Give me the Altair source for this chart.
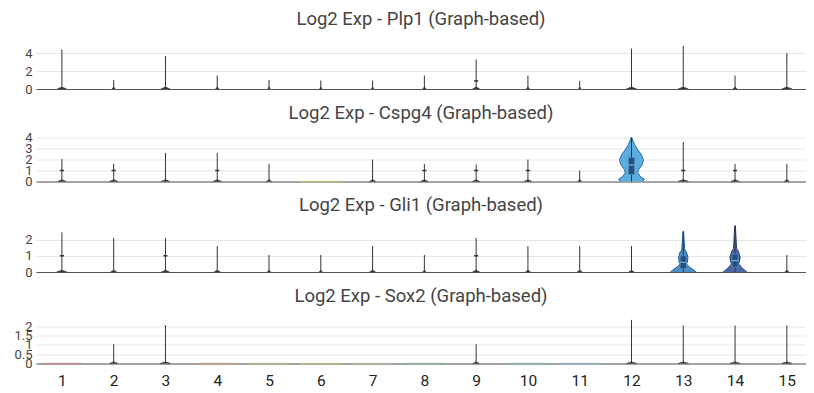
import altair as alt
import pandas as pd

clusters = list(range(1, 16))
genes = ["Plp1", "Cspg4", "Gli1", "Sox2"]
y_max = [4.8, 4.1, 2.9, 2.35]
y_ticks = [[0, 2, 4], [0, 1, 2, 3, 4], [0, 1, 2], [0, 0.5, 1, 1.5, 2]]

cluster_colors = ["#e8797a", "#e8894e", "#f0a050", "#f2b06a", "#c8d46a",
                  "#e6d96a", "#c2d8a8", "#7fbf86", "#74c6b6", "#6ec3c9",
                  "#86d2e4", "#5aaee0", "#4a8fcc", "#4a68a8", "#7b67a8"]

# maximum expression reached in each cluster (0 = nothing expressed)
plp1_max = [4.4, 1.0, 3.7, 1.5, 1.0, 0.95, 0.95, 1.5, 3.3, 1.5, 0.9, 4.5, 4.8, 1.5, 4.0]
cspg4_max = [2.05, 1.6, 2.6, 2.6, 1.6, 0, 2.0, 1.6, 1.55, 2.0, 1.0, 4.0, 3.6, 1.6, 1.6]
gli1_max = [2.45, 2.1, 2.1, 1.6, 1.05, 1.05, 1.6, 1.05, 2.1, 1.6, 1.6, 1.6, 2.5, 2.85, 1.05]
sox2_max = [0, 1.03, 2.05, 0, 0, 0, 0, 0, 1.03, 0, 0, 2.33, 2.03, 2.03, 2.03]

# small box markers on the thin violins (None = no marker)
plp1_mark = [None, None, None, None, None, None, None, None, 0.9, None, None, None, None, None, None]
cspg4_mark = [1.0, 1.0, None, 1.0, None, None, None, 1.0, 1.0, 1.0, None, None, 1.0, 1.0, None]
gli1_mark = [1.0, None, 1.0, None, None, None, None, None, 1.0, None, None, None, None, None, None]
sox2_mark = [None] * 15

# half width of the density blob at zero for each thin violin
plp1_blob = [0.09, 0.03, 0.09, 0.03, 0.02, 0.02, 0.02, 0.03, 0.07, 0.03, 0.02, 0.1, 0.1, 0.04, 0.1]
cspg4_blob = [0.08, 0.08, 0.08, 0.08, 0.05, 0, 0.06, 0.07, 0.07, 0.07, 0.04, 0, 0.1, 0.08, 0.05]
gli1_blob = [0.1, 0.06, 0.08, 0.06, 0.03, 0.03, 0.06, 0.03, 0.07, 0.05, 0.05, 0.05, 0, 0, 0.04]
sox2_blob = [0, 0.08, 0.1, 0, 0, 0, 0, 0, 0.06, 0, 0, 0.1, 0.1, 0.1, 0.1]
blob_height = [0.2, 0.15, 0.1, 0.08]

# full violin outlines (expression level, half width in cluster units)
cspg4_c12_y = [0, 0.2, 0.45, 0.8, 1.1, 1.55, 2.0, 2.45, 2.9, 3.36, 3.7, 4.0]
cspg4_c12_w = [0.21, 0.25, 0.17, 0.12, 0.14, 0.21, 0.23, 0.19, 0.12, 0.06, 0.03, 0.006]
gli1_c13_y = [0, 0.1, 0.3, 0.5, 0.6, 0.9, 1.25, 1.35, 1.6, 2.0, 2.5]
gli1_c13_w = [0.25, 0.21, 0.12, 0.06, 0.08, 0.09, 0.06, 0.03, 0.023, 0.015, 0.006]
gli1_c14_y = [0, 0.1, 0.3, 0.5, 0.6, 0.9, 1.3, 1.45, 1.8, 2.3, 2.85]
gli1_c14_w = [0.23, 0.19, 0.12, 0.07, 0.08, 0.1, 0.06, 0.03, 0.023, 0.015, 0.006]
violin_fill = ["#5aaee0", "#4a8fcc", "#4a68a8"]
violin_line = ["#2c6a9e", "#23598f", "#2a3d73"]

# inner boxes of the full violins: gene, cluster, q1, median, q3
box_gene = ["Cspg4", "Gli1", "Gli1"]
box_cluster = [12, 13, 14]
box_q1 = [0.65, 0.2, 0.3]
box_med = [1.5, 0.6, 0.7]
box_q3 = [2.2, 1.0, 1.1]

max_lists = [plp1_max, cspg4_max, gli1_max, sox2_max]
mark_lists = [plp1_mark, cspg4_mark, gli1_mark, sox2_mark]
blob_lists = [plp1_blob, cspg4_blob, gli1_blob, sox2_blob]
full_violins = [("Cspg4", 12, cspg4_c12_y, cspg4_c12_w),
                ("Gli1", 13, gli1_c13_y, gli1_c13_w),
                ("Gli1", 14, gli1_c14_y, gli1_c14_w)]


def outline(gene, cluster, vid, ys, ws):
    """Closed violin outline: up the left side, down the right side."""
    rows = []
    pts = [(y, -w) for y, w in zip(ys, ws)] + [(y, w) for y, w in reversed(list(zip(ys, ws)))]
    for k, (y, off) in enumerate(pts):
        rows.append({"gene": gene, "cluster": cluster, "vid": vid, "idx": k, "y": y, "off": off})
    return rows


blob_rows, spike_rows, mark_rows, zero_rows = [], [], [], []
for gi, g in enumerate(genes):
    for ci, c in enumerate(clusters):
        top = max_lists[gi][ci]
        if top > 0:
            spike_rows.append({"gene": g, "cluster": c, "top": top})
        else:
            zero_rows.append({"gene": g, "cluster": c, "color": cluster_colors[ci]})
        bw = blob_lists[gi][ci]
        if bw > 0:
            blob_rows += outline(g, c, f"{g}-{c}", [0, blob_height[gi]], [bw, 0.004])
        m = mark_lists[gi][ci]
        if m is not None:
            mark_rows.append({"gene": g, "cluster": c, "m": m})

violin_frames = []
for g, c, ys, ws in full_violins:
    violin_frames.append((g, pd.DataFrame(outline(g, c, f"{g}-{c}", ys, ws))))

blobs = pd.DataFrame(blob_rows)
spikes = pd.DataFrame(spike_rows)
marks = pd.DataFrame(mark_rows)
zeros = pd.DataFrame(zero_rows)
boxes = pd.DataFrame({"gene": box_gene, "cluster": box_cluster,
                      "q1": box_q1, "med": box_med, "q3": box_q3})

FONT = "Roboto"
x_scale = alt.Scale(domain=[0.5, 15.37], nice=False, zero=False)
heights = [43, 45, 47, 44]
title_offsets = [17.5, 9.5, 9, 13.5]


def panel(gi):
    g = genes[gi]
    last = gi == len(genes) - 1
    x_axis = alt.Axis(values=clusters, format="d", grid=False, ticks=False,
                      domain=True, domainColor="#555555", domainWidth=1,
                      labels=last, labelFontSize=15.5, labelColor="#222222",
                      labelFont=FONT, labelPadding=10, title=None)
    y_scale = alt.Scale(domain=[0, y_max[gi]], nice=False, zero=True)
    y_axis = alt.Axis(values=y_ticks[gi], format="~g", grid=True, gridColor="#e6e6e6",
                      domain=False, ticks=False, labelOverlap=False,
                      labelFontSize=13, labelColor="#444444", labelFont=FONT,
                      labelPadding=4, minExtent=28, maxExtent=28, title=None)
    X = lambda f: alt.X(f, scale=x_scale, axis=x_axis)
    Y = lambda f: alt.Y(f, scale=y_scale, axis=y_axis)

    layers = []
    zsub = zeros[zeros.gene == g]
    if len(zsub):
        layers.append(alt.Chart(zsub).transform_calculate(
            lo="datum.cluster - 0.4", hi="datum.cluster + 0.4", z="0"
        ).mark_rule(strokeWidth=2, opacity=0.35).encode(
            x=X("lo:Q"), x2="hi:Q", y=Y("z:Q"),
            color=alt.Color("color:N", scale=None)))

    layers.append(alt.Chart(blobs[blobs.gene == g]).transform_calculate(
        px="datum.cluster + datum.off"
    ).mark_line(fill="#3a3a3a", stroke="#333333", strokeWidth=0.8).encode(
        x=X("px:Q"), y=Y("y:Q"), order="idx:Q", detail="vid:N"))

    for vi, (vg, vdf) in enumerate(violin_frames):
        if vg != g:
            continue
        layers.append(alt.Chart(vdf).transform_calculate(
            px="datum.cluster + datum.off"
        ).mark_line(fill=violin_fill[vi], stroke=violin_line[vi], strokeWidth=1).encode(
            x=X("px:Q"), y=Y("y:Q"), order="idx:Q", detail="vid:N"))

    layers.append(alt.Chart(spikes[spikes.gene == g]).transform_calculate(
        zero="0"
    ).mark_rule(color="#333333", strokeWidth=1).encode(
        x=X("cluster:Q"), y=Y("zero:Q"), y2="top:Q"))

    bsub = boxes[boxes.gene == g]
    if len(bsub):
        layers.append(alt.Chart(bsub).transform_calculate(
            lo="datum.cluster - 0.06", hi="datum.cluster + 0.06"
        ).mark_rect(fill="#24507e", stroke="#5f9ed1", strokeWidth=0.6).encode(
            x=X("lo:Q"), x2="hi:Q", y=Y("q1:Q"), y2="q3:Q"))
        layers.append(alt.Chart(bsub).transform_calculate(
            lo="datum.cluster - 0.06", hi="datum.cluster + 0.06"
        ).mark_rule(color="#8fc0e8", strokeWidth=1).encode(
            x=X("lo:Q"), x2="hi:Q", y=Y("med:Q")))

    msub = marks[marks.gene == g]
    if len(msub):
        layers.append(alt.Chart(msub).transform_calculate(
            lo="datum.cluster - 0.04", hi="datum.cluster + 0.04"
        ).mark_rule(color="#333333", strokeWidth=1.5).encode(
            x=X("lo:Q"), x2="hi:Q", y=Y("m:Q")))

    return alt.layer(*layers).properties(
        width=770, height=heights[gi],
        title=alt.TitleParams(f"Log2 Exp - {g} (Graph-based)", fontSize=18.5,
                              font=FONT, color="#444444", fontWeight="normal",
                              anchor="middle", offset=title_offsets[gi]))


chart = alt.vconcat(*[panel(i) for i in range(4)], spacing=7.5).properties(
    padding={"left": 0, "top": 1, "right": 0, "bottom": 0}
).configure_view(stroke=None)

chart.save("out.html", embed_options={"renderer": "svg", "actions": False})
